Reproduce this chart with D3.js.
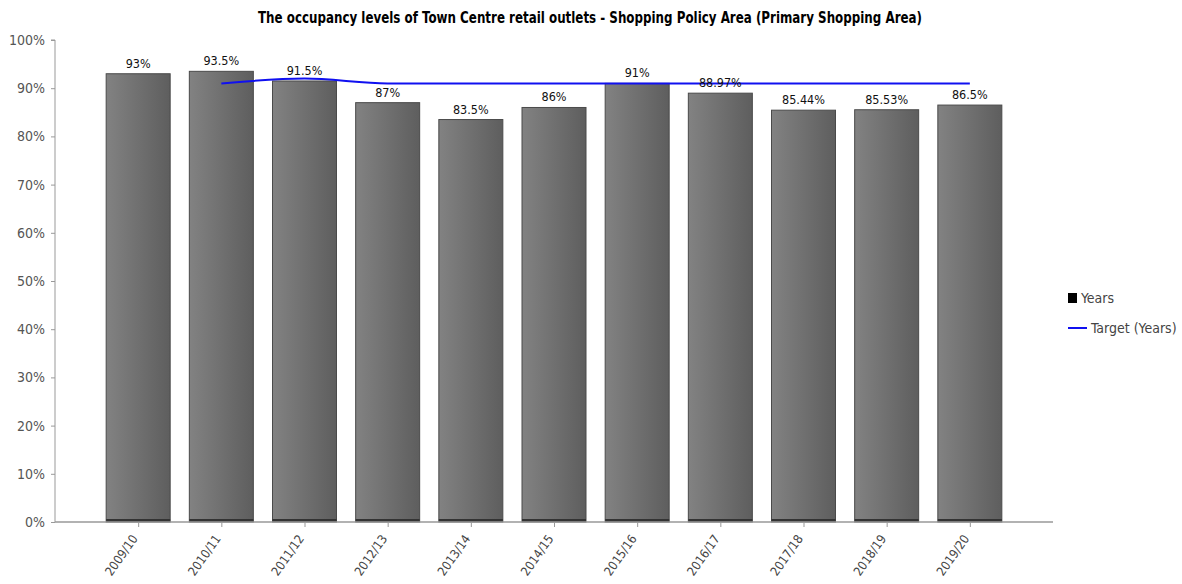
<!DOCTYPE html>
<html>
<head>
  <meta charset="UTF-8">
  <title>Town Centre occupancy</title>
  <script src="https://cdn.jsdelivr.net/npm/d3@7"></script>
  <style>
    body { margin: 0; background: #fff; }
    svg text { font-family: "DejaVu Sans Condensed", "Liberation Sans Narrow", sans-serif; }
  </style>
</head>
<body>
  <div id="chart"></div>
  <script>
    // chart values
    const years = ['2009/10', '2010/11', '2011/12', '2012/13', '2013/14', '2014/15',
                   '2015/16', '2016/17', '2017/18', '2018/19', '2019/20'];
    const occupancy = [93, 93.5, 91.5, 87, 83.5, 86, 91, 88.97, 85.44, 85.53, 86.5];
    const occupancyLabels = ['93%', '93.5%', '91.5%', '87%', '83.5%', '86%', '91%', '88.97%', '85.44%', '85.53%', '86.5%'];
    // target starts in 2010/11
    const target = [null, 91, 92, 91, 91, 91, 91, 91, 91, 91, 91];
    const yTicks = [0, 10, 20, 30, 40, 50, 60, 70, 80, 90, 100];

    const width = 1182, height = 584;
    const plotLeft = 55, plotRight = 1053, plotTop = 40, plotBottom = 522;

    const svg = d3.select('#chart').append('svg')
      .attr('width', width).attr('height', height);

    const defs = svg.append('defs');
    const grad = defs.append('linearGradient').attr('id', 'barGrad')
      .attr('x1', '0%').attr('x2', '100%').attr('y1', '0%').attr('y2', '0%');
    grad.append('stop').attr('offset', '0%').attr('stop-color', '#828282');
    grad.append('stop').attr('offset', '100%').attr('stop-color', '#5e5e5e');

    const x = d3.scalePoint().domain(years).range([plotLeft, plotRight]).padding(1);
    const y = d3.scaleLinear().domain([0, 100]).range([plotBottom, plotTop]);
    const barW = 64;

    // title
    svg.append('text')
      .attr('x', 590).attr('y', 23)
      .attr('text-anchor', 'middle')
      .attr('font-size', 15).attr('font-weight', 'bold')
      .attr('fill', '#000')
      .attr('textLength', 664).attr('lengthAdjust', 'spacingAndGlyphs')
      .text('The occupancy levels of Town Centre retail outlets - Shopping Policy Area (Primary Shopping Area)');

    // y axis
    const yAxis = svg.append('g').attr('transform', `translate(${plotLeft},0)`)
      .call(d3.axisLeft(y).tickValues(yTicks).tickFormat(d => d + '%').tickSize(4).tickPadding(6));
    yAxis.select('.domain').attr('stroke', '#999').attr('d', `M-4,${plotTop}H0V${plotBottom}`);
    yAxis.selectAll('.tick line').attr('stroke', '#999');
    yAxis.selectAll('.tick text').attr('font-size', 14).attr('fill', '#555')
      .attr('font-family', '"DejaVu Sans Condensed", sans-serif');

    // bars
    const bars = svg.append('g').selectAll('g').data(years).enter().append('g');
    bars.append('rect')
      .attr('x', d => x(d) - barW / 2)
      .attr('y', (d, i) => y(occupancy[i]))
      .attr('width', barW)
      .attr('height', (d, i) => plotBottom - y(occupancy[i]))
      .attr('fill', 'url(#barGrad)')
      .attr('stroke', '#4a4a4a').attr('stroke-width', 1);
    bars.append('rect')
      .attr('x', d => x(d) - barW / 2)
      .attr('y', plotBottom - 3)
      .attr('width', barW).attr('height', 3)
      .attr('fill', '#333');

    // x axis
    const xAxis = svg.append('g').attr('transform', `translate(0,${plotBottom})`)
      .call(d3.axisBottom(x).tickSize(5).tickPadding(6));
    xAxis.select('.domain').attr('stroke', '#999').attr('stroke-width', 1.5).attr('d', `M${plotLeft},0H${plotRight}`);
    xAxis.selectAll('.tick line').attr('stroke', '#999');
    xAxis.selectAll('.tick text')
      .attr('font-size', 12.5).attr('fill', '#444')
      .attr('text-anchor', 'end')
      .attr('x', 0).attr('y', 0).attr('dx', 0).attr('dy', '0.35em')
      .attr('transform', 'translate(-4,14) rotate(-55)');

    // target line
    const line = d3.line()
      .defined(d => d != null)
      .x((d, i) => x(years[i]))
      .y(d => y(d))
      .curve(d3.curveMonotoneX);
    svg.append('path').datum(target)
      .attr('d', line)
      .attr('fill', 'none').attr('stroke', '#1010f0').attr('stroke-width', 2);

    // value labels
    svg.append('g').selectAll('text').data(years).enter().append('text')
      .attr('x', d => x(d))
      .attr('y', (d, i) => y(occupancy[i]) - 6)
      .attr('text-anchor', 'middle')
      .attr('font-size', 12.5).attr('fill', '#111')
      .text((d, i) => occupancyLabels[i]);

    // legend
    const legend = svg.append('g').attr('transform', 'translate(1068,298)');
    legend.append('rect').attr('x', 0).attr('y', -5).attr('width', 9).attr('height', 10).attr('fill', '#000');
    legend.append('text').attr('x', 13).attr('y', 5).attr('font-size', 14).attr('fill', '#444').text('Years');
    legend.append('line').attr('x1', 0).attr('x2', 19).attr('y1', 30).attr('y2', 30)
      .attr('stroke', '#1010f0').attr('stroke-width', 2);
    legend.append('text').attr('x', 23).attr('y', 35).attr('font-size', 14).attr('fill', '#444').text('Target (Years)');
  </script>
</body>
</html>
